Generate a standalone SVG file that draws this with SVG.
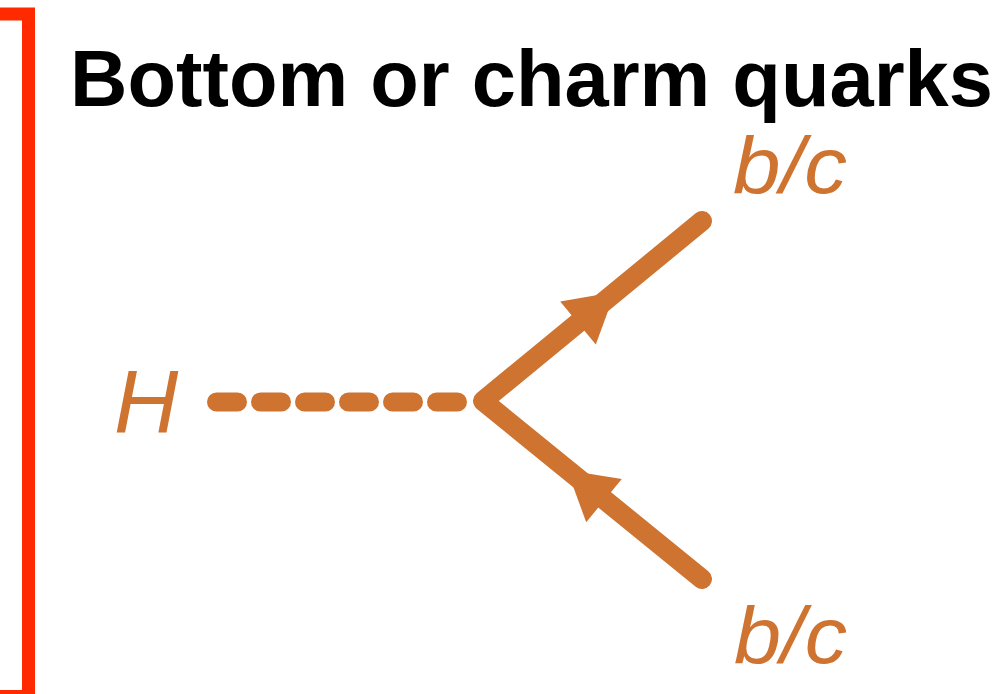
<svg xmlns="http://www.w3.org/2000/svg" width="1004" height="694" viewBox="0 0 1004 694">
  <style>
    .lbl { font-family: "Liberation Sans", Arial, sans-serif; font-style: italic; fill: #CF7331; }
    .title { font-family: "Liberation Sans", Arial, sans-serif; font-weight: bold; fill: #000; }
    .prop { fill: none; stroke: #CF7331; stroke-width: 20; }
    .arrow { fill: #CF7331; }
  </style>
  <rect width="1004" height="694" fill="#ffffff"/>
  <g id="bracket">
    <polyline points="0,14 28.5,14 28.5,696.5 0,696.5" fill="none" stroke="#FF2A00" stroke-width="13" stroke-linejoin="miter"/>
  </g>
  <g id="title">
    <text class="title" x="70" y="106" font-size="79" textLength="923" lengthAdjust="spacingAndGlyphs">Bottom or charm quarks</text>
  </g>
  <g id="higgs">
    <text class="lbl" x="114" y="432" font-size="89">H</text>
  </g>
  <g id="quark-top">
    <text class="lbl" x="733" y="193" font-size="80" textLength="114" lengthAdjust="spacingAndGlyphs">b/c</text>
  </g>
  <g id="quark-bottom">
    <text class="lbl" x="734" y="663" font-size="80" textLength="113" lengthAdjust="spacingAndGlyphs">b/c</text>
  </g>
  <g id="connectors">
    <line x1="216.5" y1="402" x2="465" y2="402" stroke="#CF7331" stroke-width="19" stroke-linecap="round" stroke-dasharray="21 23"/>
    <polyline class="prop" points="702,221 483,401 702,579" stroke-linecap="round" stroke-linejoin="round"/>
    <polygon class="arrow" points="615,292 595.8,344.6 560.2,301.4"/>
    <polygon class="arrow" points="567.2,470.2 621.8,479 586.2,522.2"/>
  </g>
</svg>
